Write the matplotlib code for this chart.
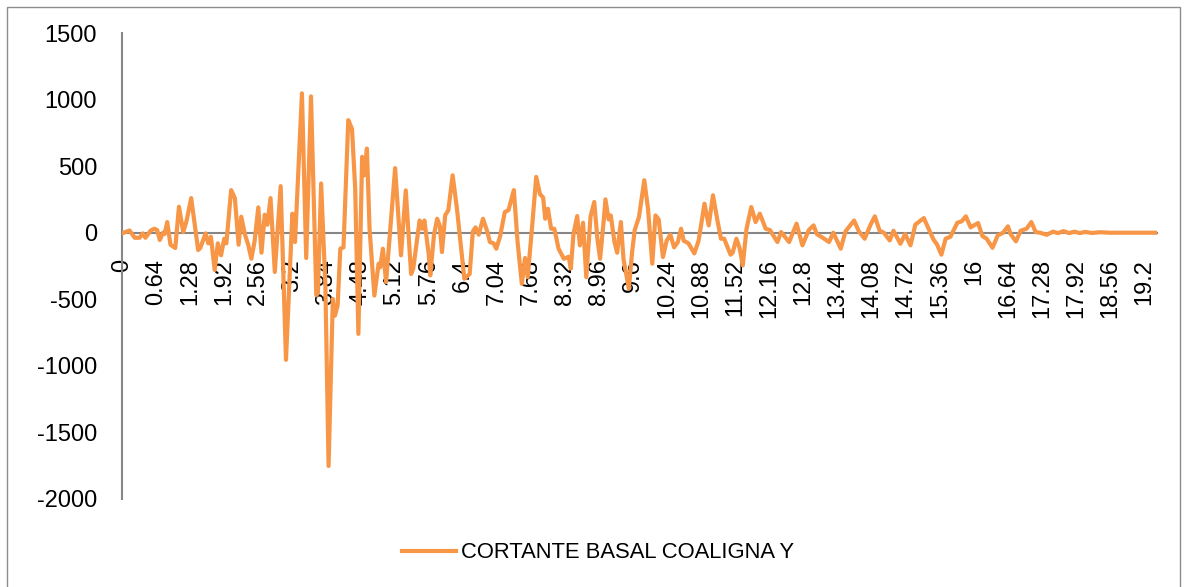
import matplotlib.pyplot as plt
import matplotlib.patches as mpatches
import numpy as np

# time (s) and basal shear (peaks / troughs)
t = [0.00, 0.14, 0.24, 0.33, 0.39, 0.44, 0.54, 0.61, 0.66, 0.71, 0.77, 0.80, 0.85, 0.91,
     1.00, 1.07, 1.15, 1.21, 1.30, 1.43, 1.47, 1.57, 1.62, 1.67, 1.74, 1.80, 1.86, 1.92,
     1.96, 2.05, 2.12, 2.19, 2.24, 2.31, 2.37, 2.43, 2.49, 2.56, 2.62, 2.68, 2.73, 2.79,
     2.87, 2.98, 3.08, 3.20, 3.25, 3.38, 3.46, 3.55, 3.65, 3.68, 3.74, 3.82, 3.88, 3.96,
     4.00, 4.05, 4.10, 4.16, 4.25, 4.32, 4.38, 4.44, 4.51, 4.55, 4.60, 4.65, 4.74, 4.82,
     4.85, 4.90, 4.96, 5.13, 5.24, 5.33, 5.43, 5.47, 5.59, 5.64, 5.68, 5.76, 5.79, 5.86,
     5.92, 5.97, 6.01, 6.07, 6.13, 6.21, 6.29, 6.35, 6.43, 6.53, 6.59, 6.64, 6.70, 6.78,
     6.86, 6.91, 6.98, 7.03, 7.10, 7.19, 7.26, 7.36, 7.43, 7.51, 7.57, 7.62, 7.71, 7.78,
     7.85, 7.91, 7.95, 8.00, 8.06, 8.12, 8.20, 8.30, 8.39, 8.43, 8.48, 8.55, 8.60, 8.66,
     8.72, 8.77, 8.80, 8.87, 8.93, 8.98, 9.05, 9.08, 9.14, 9.18, 9.25, 9.30, 9.37, 9.42,
     9.52, 9.58, 9.63, 9.71, 9.81, 9.88, 9.96, 10.02, 10.08, 10.16, 10.23, 10.30, 10.37,
     10.44, 10.50, 10.55, 10.64, 10.75, 10.83, 10.94, 11.02, 11.10, 11.18, 11.25, 11.31,
     11.43, 11.47, 11.54, 11.60, 11.66, 11.73, 11.82, 11.90, 11.98, 12.09, 12.17, 12.31,
     12.38, 12.53, 12.67, 12.78, 12.90, 12.99, 13.05, 13.17, 13.28, 13.36, 13.50, 13.59,
     13.75, 13.84, 13.95, 14.06, 14.14, 14.23, 14.31, 14.42, 14.49, 14.62, 14.71, 14.81,
     14.90, 15.06, 15.15, 15.24, 15.31, 15.39, 15.47, 15.56, 15.69, 15.77, 15.85, 15.94,
     15.98, 16.08, 16.16, 16.24, 16.35, 16.45, 16.55, 16.64, 16.69, 16.79, 16.88, 16.99,
     17.08, 17.16, 17.24, 17.37, 17.49, 17.58, 17.68, 17.79, 17.89, 17.99, 18.09, 18.22,
     18.37, 18.55, 19.44]
cortante = [-5, 17, -38, -38, -5, -38, 17, 30, 20, -55, 0, -10, 80, -90,
            -115, 195, 5, 85, 260, -130, -115, -5, -80, -30, -280, -80, -170, -45,
            -80, 320, 260, -90, 120, -15, -90, -195, -65, 190, -150, 135, 60, 260,
            -295, 350, -955, 143, -70, 1047, -190, 1024, -470, -450, 370, -397, -1752, -497,
            -623, -547, -120, -110, 846, 780, 331, -760, 570, 431, 632, 30, -472, -233,
            -260, -120, -370, 485, -170, 318, -310, -270, 92, 30, 92, -158, -320, -15,
            105, 50, -145, 130, 170, 431, 185, -45, -346, -310, 10, 40, -15, 105,
            10, -70, -80, -120, -30, 155, 170, 320, -70, -384, -190, -334, 80, 419,
            290, 265, 105, 180, 30, 30, -120, -196, -180, -270, -10, 125, -95, 75,
            -334, -50, 120, 231, -50, -196, 100, 250, 100, 130, -70, -150, 80, -200,
            -420, -150, 20, 118, 394, 180, -233, 130, 100, -183, -60, -15, -110,
            -70, 30, -60, -80, -155, -60, 218, 55, 281, 100, -45, -45,
            -165, -150, -45, -115, -246, 30, 193, 80, 143, 30, 20, -70,
            5, -70, 68, -95, 20, 55, -10, -40, -70, 0, -120, 10,
            92, 10, -45, 60, 123, 15, 0, -58, 15, -83, -10, -95,
            60, 110, 30, -50, -90, -165, -45, -30, 75, 85, 123, 40,
            50, 73, -25, -45, -113, -20, 0, 48, -10, -65, 15, 30,
            80, 5, 0, -15, 8, -3, 12, -3, 8, -3, 6, -2,
            4, 0, 0]
x_ticks = np.round(np.arange(0, 19.21, 0.64), 2)
x_labels = [f"{v:g}" for v in x_ticks]
y_ticks = [-2000, -1500, -1000, -500, 0, 500, 1000, 1500]
serie = "CORTANTE BASAL COALIGNA Y"

plt.rcParams['font.family'] = ['Liberation Sans', 'DejaVu Sans']

W, H = 1186, 587
fig = plt.figure(figsize=(W / 100, H / 100), dpi=100)

# chart area border
fig.patches.append(mpatches.Rectangle((6.5 / W, -0.05), (1179.5 - 6.5) / W, (H - 6.5) / H + 0.05,
                                      transform=fig.transFigure, fill=False,
                                      edgecolor='#8c8c8c', lw=1.0))

ax = fig.add_axes([122 / W, (H - 499) / H, (1157 - 122) / W, (499 - 33) / H])
ax.plot(t, cortante, color='#F79646', lw=3.0, solid_joinstyle='round', zorder=3,
        label=serie)

ax.set_xlim(0, 19.44)
ax.set_ylim(-2000, 1500)
ax.set_axisbelow(True)

for s in ['top', 'right']:
    ax.spines[s].set_visible(False)
ax.spines['bottom'].set_position(('data', 0))
for s in ['bottom', 'left']:
    ax.spines[s].set_color('#868686')
    ax.spines[s].set_linewidth(1.5)
    ax.spines[s].set_zorder(1)

ax.set_xticks(x_ticks)
ax.set_xticklabels(x_labels, rotation=90, fontsize=17)
ax.set_yticks(y_ticks)
ax.set_yticklabels([str(v) for v in y_ticks], fontsize=17)
ax.tick_params(axis='x', length=0, pad=19)
ax.tick_params(axis='y', length=0, pad=18)
for lab in ax.get_xticklabels():
    lab.set_verticalalignment('top')

fig.legend(loc='center', bbox_to_anchor=(598 / W, 1 - 553 / H), frameon=False,
           handlelength=2.45, handletextpad=0.25, prop={'size': 15.8})

fig.savefig('out.png', dpi=100)
